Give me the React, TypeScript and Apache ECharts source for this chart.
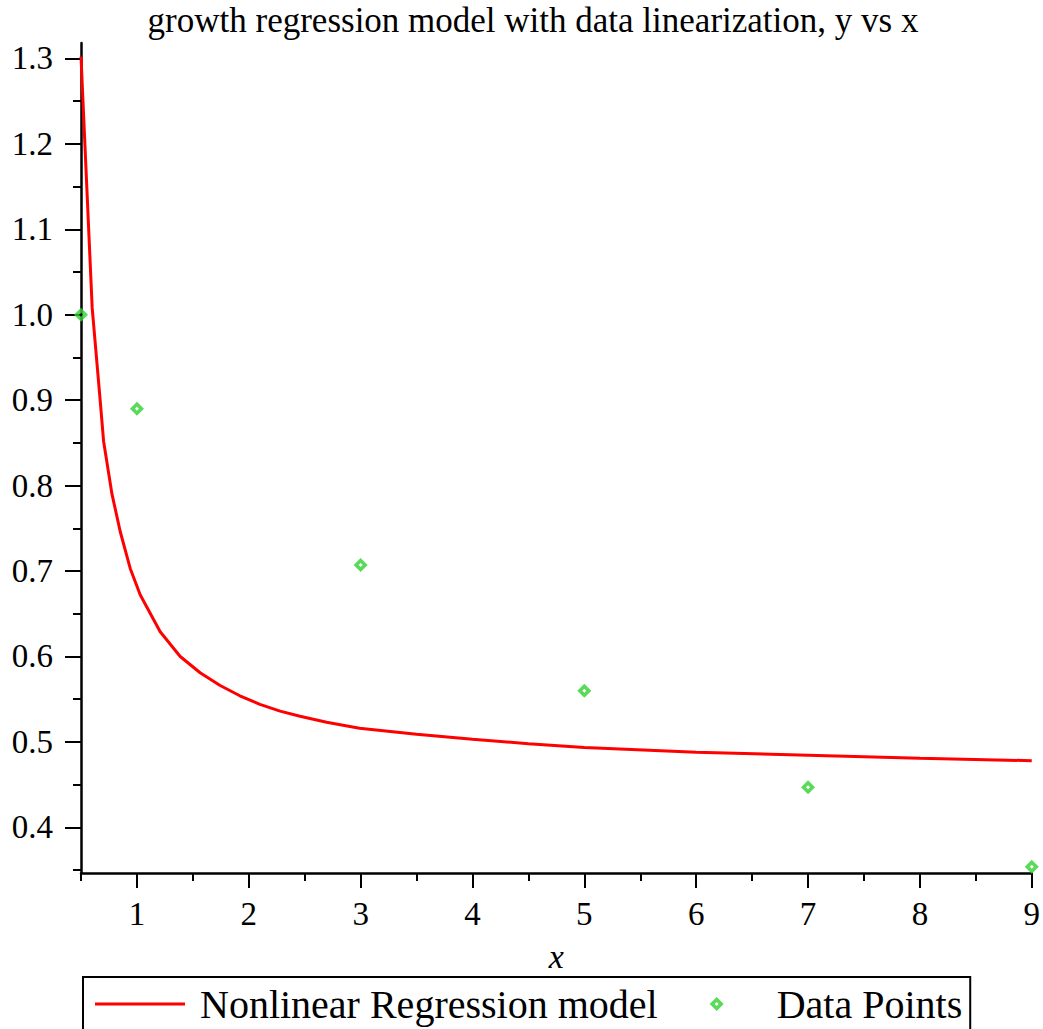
import React, { useEffect, useRef } from "react";
import * as echarts from "echarts";

const titleText = "growth regression model with data linearization, y vs x";
const curveName = "Nonlinear Regression model";
const pointsName = "Data Points";

// fitted curve
const curveX = [0.5, 0.6, 0.672, 0.702, 0.777, 0.851, 0.94, 1.03, 1.208, 1.387, 1.565, 1.744, 1.92, 2.1, 2.28, 2.458, 2.696, 2.99, 3.5, 4, 4.5, 5, 6, 7, 8, 9];
const curveY = [1.302, 1.008, 0.899, 0.852, 0.79, 0.746, 0.703, 0.672, 0.629, 0.6, 0.581, 0.566, 0.554, 0.544, 0.536, 0.53, 0.523, 0.516, 0.509, 0.503, 0.498, 0.4935, 0.488, 0.4845, 0.481, 0.478];

// data points
const pointX = [0.5, 1, 3, 5, 7, 9];
const pointY = [1.0, 0.89, 0.707, 0.56, 0.447, 0.354];

// axis ticks
const xMajor = [1, 2, 3, 4, 5, 6, 7, 8, 9];
const xMinor = [0.5, 1.5, 2.5, 3.5, 4.5, 5.5, 6.5, 7.5, 8.5];
const yMajor = [0.4, 0.5, 0.6, 0.7, 0.8, 0.9, 1.0, 1.1, 1.2, 1.3];
const yMinor = [0.35, 0.45, 0.55, 0.65, 0.75, 0.85, 0.95, 1.05, 1.15, 1.25];

const X_MIN = 0.5;
const X_MAX = 9;
const Y_MIN = 0.3466;
const Y_MAX = 1.318;

const FONT = "Liberation Serif, serif";
const MARKER = "path://M7 0 L14 7 L7 14 L0 7 Z M7 5 L5 7 L7 9 L9 7 Z";
const LINE_ICON = "path://M0 0 L90 0 L90 3 L0 3 Z";

export default function App() {
  const ref = useRef<HTMLDivElement>(null);
  useEffect(() => {
    if (!ref.current) return;
    const chart = echarts.init(ref.current, undefined, { renderer: "svg" });
    const axisLine = { show: true, lineStyle: { color: "#000", width: 2.5 } };
    chart.setOption({
      animation: false,
      backgroundColor: "#fff",
      graphic: [
        {
          type: "text",
          x: 533,
          y: 3,
          style: {
            text: titleText,
            align: "center",
            verticalAlign: "top",
            fontSize: 35,
            fontFamily: FONT,
            fill: "#000",
          },
        },
      ],
      legend: {
        left: 83,
        top: 977,
        orient: "horizontal",
        borderColor: "#000",
        borderWidth: 2,
        padding: [7, 8, 7, 12],
        itemWidth: 90,
        itemHeight: 14,
        itemGap: 52,
        textStyle: { fontSize: 40, fontFamily: FONT, color: "#000", padding: [0, 0, 0, 10] },
        data: [
          { name: curveName, icon: LINE_ICON },
          { name: pointsName },
        ],
      },
      grid: { left: 81, right: 10, top: 43, bottom: 156, containLabel: false },
      xAxis: [
        {
          type: "value",
          min: X_MIN,
          max: X_MAX,
          position: "bottom",
          axisLine,
          splitLine: { show: false },
          axisTick: { show: true, customValues: xMajor, length: 15, lineStyle: { color: "#000", width: 2 } },
          axisLabel: {
            customValues: xMajor,
            fontSize: 33,
            fontFamily: FONT,
            color: "#000",
            margin: 24,
          },
          name: "x",
          nameLocation: "middle",
          nameGap: 66,
          nameTextStyle: { fontSize: 34, fontFamily: FONT, fontStyle: "italic", color: "#000" },
        },
        {
          type: "value",
          min: X_MIN,
          max: X_MAX,
          position: "bottom",
          axisLine: { show: false },
          splitLine: { show: false },
          axisTick: { show: true, customValues: xMinor, length: 8, lineStyle: { color: "#000", width: 2 } },
          axisLabel: { show: false },
        },
      ],
      yAxis: [
        {
          type: "value",
          min: Y_MIN,
          max: Y_MAX,
          position: "left",
          axisLine,
          splitLine: { show: false },
          axisTick: { show: true, customValues: yMajor, length: 16, lineStyle: { color: "#000", width: 2 } },
          axisLabel: {
            customValues: yMajor,
            formatter: (v: number) => v.toFixed(1),
            fontSize: 33,
            fontFamily: FONT,
            color: "#000",
            margin: 28,
          },
        },
        {
          type: "value",
          min: Y_MIN,
          max: Y_MAX,
          position: "left",
          axisLine: { show: false },
          splitLine: { show: false },
          axisTick: { show: true, customValues: yMinor, length: 8, lineStyle: { color: "#000", width: 2 } },
          axisLabel: { show: false },
        },
      ],
      series: [
        {
          name: curveName,
          type: "line",
          xAxisIndex: 0,
          yAxisIndex: 0,
          data: curveX.map((x, i) => [x, curveY[i]]),
          symbol: "none",
          smooth: false,
          lineStyle: { color: "#ff0000", width: 3 },
          itemStyle: { color: "#ff0000" },
          z: 3,
        },
        {
          name: pointsName,
          type: "scatter",
          xAxisIndex: 0,
          yAxisIndex: 0,
          data: pointX.map((x, i) => [x, pointY[i]]),
          symbol: MARKER,
          symbolSize: 14,
          itemStyle: { color: "#2fd12f" },
          clip: false,
          z: 4,
        },
      ],
    });
    return () => chart.dispose();
  }, []);
  return (
    <div
      ref={ref}
      style={{ position: "fixed", left: 0, top: 0, width: 1043, height: 1029 }}
    />
  );
}
